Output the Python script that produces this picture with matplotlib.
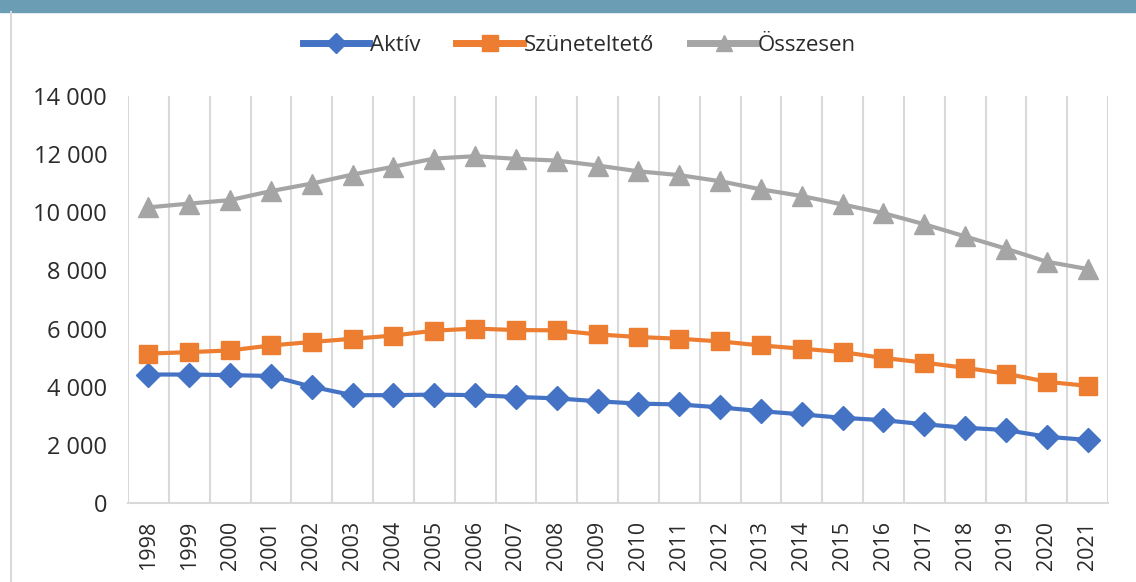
import matplotlib.pyplot as plt
from matplotlib.ticker import FuncFormatter
from matplotlib.patches import Rectangle
from matplotlib.lines import Line2D

# Adatok
evek = [str(e) for e in range(1998, 2022)]
aktiv = [4420, 4420, 4400, 4370, 4000, 3710, 3710, 3730, 3710, 3650, 3600, 3500,
         3420, 3390, 3290, 3160, 3050, 2930, 2850, 2710, 2590, 2510, 2280, 2170]
szuneteltet = [5140, 5190, 5250, 5420, 5540, 5650, 5760, 5930, 6000, 5950, 5940, 5800,
               5710, 5650, 5560, 5420, 5310, 5190, 4990, 4830, 4650, 4450, 4170, 4030]
osszesen = [10170, 10300, 10420, 10730, 10990, 11300, 11570, 11850, 11930, 11840, 11780, 11610,
            11410, 11280, 11070, 10790, 10560, 10270, 9970, 9590, 9170, 8750, 8300, 8050]

plt.rcParams['font.family'] = ['Open Sans', 'DejaVu Sans']

fig = plt.figure(figsize=(11.36, 5.82), dpi=100)
ax = fig.add_axes([0.1127, 0.1357, 0.8627, 0.6993])

x = range(len(evek))
ax.plot(x, aktiv, color='#4472C4', lw=3, marker='D', ms=12, label='Aktív')
ax.plot(x, szuneteltet, color='#ED7D31', lw=3, marker='s', ms=13, label='Szüneteltető')
ax.plot(x, osszesen, color='#A5A5A5', lw=3, marker='^', ms=14, label='Összesen')

ax.set_xlim(-0.5, len(evek) - 0.5)
ax.set_ylim(0, 14000)
ax.set_yticks(range(0, 14001, 2000))
ax.yaxis.set_major_formatter(FuncFormatter(lambda v, p: f'{v:,.0f}'.replace(',', ' ')))
ax.set_xticks(list(x))
ax.set_xticklabels(evek, rotation=90)

# függőleges rácsvonalak a kategóriák között
for b in range(len(evek) + 1):
    ax.axvline(b - 0.5, color='#D9D9D9', lw=1.5, zorder=0)

for s in ['top', 'right', 'left']:
    ax.spines[s].set_visible(False)
ax.spines['bottom'].set_color('#D9D9D9')
ax.spines['bottom'].set_linewidth(1.5)
ax.tick_params(axis='both', length=0, colors='#2b2b2b')
ax.tick_params(axis='y', labelsize=17, pad=15)
ax.tick_params(axis='x', labelsize=15.5, pad=13)

# jelmagyarázat
handles = [Line2D([0], [0], color='#4472C4', lw=5, marker='D', ms=10),
           Line2D([0], [0], color='#ED7D31', lw=5, marker='s', ms=11),
           Line2D([0], [0], color='#A5A5A5', lw=5, marker='^', ms=11)]
fig.legend(handles, ['Aktív', 'Szüneteltető', 'Összesen'], loc='center',
           bbox_to_anchor=(0.51, 0.922), ncol=3, frameon=False, fontsize=16,
           handlelength=3.0, handletextpad=0.05, columnspacing=1.6, labelcolor='#2b2b2b')

# fejléc sáv és keret
fig.patches.append(Rectangle((0, 1 - 12 / 582), 1, 12 / 582, transform=fig.transFigure,
                             color='#6B9DB5', zorder=0))
fig.lines.append(Line2D([11 / 1136, 11 / 1136], [0, 1 - 12 / 582], transform=fig.transFigure,
                        color='#D9D9D9', lw=1.5))

fig.savefig('out.png', dpi=100)
